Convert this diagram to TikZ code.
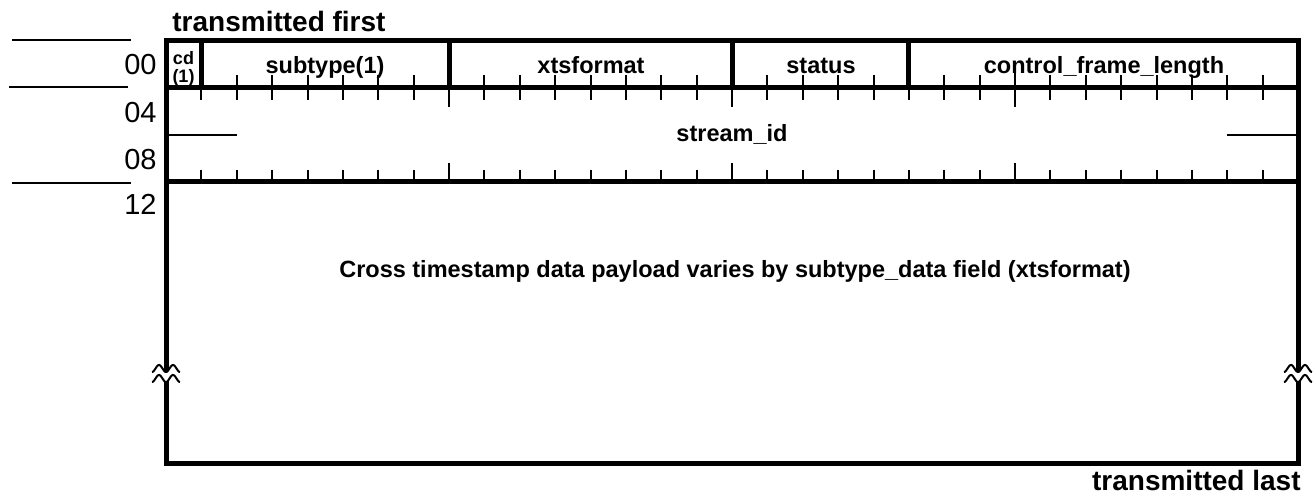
\documentclass[tikz,border=0pt]{standalone}
\usepackage{fontspec}
\setmainfont{Liberation Sans}
\begin{document}
\begin{tikzpicture}[x=0.5pt,y=-0.5pt,
  frame/.style={line width=2.5pt, line join=miter},
  bitmark/.style={line width=1pt},
  rule/.style={line width=1pt},
  wave/.style={line width=1pt},
  rowlabel/.style={font=\fontsize{14.5}{16}\selectfont, inner sep=0pt, anchor=base east},
  fieldlabel/.style={font=\bfseries\fontsize{11.75}{13}\selectfont, inner sep=0pt, anchor=base},
  smalllabel/.style={font=\bfseries\fontsize{9}{10}\selectfont, inner sep=0pt, anchor=base},
  title/.style={font=\bfseries\fontsize{14}{16}\selectfont, inner sep=0pt},
  brk/.pic={
    \fill[white] plot[domain=0:1,samples=40] ({-14+28*\x},{-5+3.5*cos(720*\x)})
      -- plot[domain=1:0,samples=40] ({-14+28*\x},{5+3.5*cos(720*\x)}) -- cycle;
    \draw[wave] plot[domain=0:1,samples=40] ({-14+28*\x},{-5+3.5*cos(720*\x)});
    \draw[wave] plot[domain=0:1,samples=40] ({-14+28*\x},{5+3.5*cos(720*\x)});
  }]
\useasboundingbox (0,0) rectangle (1316,497);
\def\bw{35.375}

% left-hand row rules
\draw[rule] (12,40.5) -- (131,40.5);
\draw[rule] (9,87.5) -- (128,87.5);
\draw[rule] (12,183) -- (131,183);

% row offsets
\node[rowlabel] (r00) at (157,75) {00};
\node[rowlabel] (r04) at (157,123) {04};
\node[rowlabel] (r08) at (157,170) {08};
\node[rowlabel] (r12) at (157,215) {12};

% bit ticks: above the first row line (inside the fields), below it,
% and above the line closing stream_id; byte boundaries are longer
\foreach \b in {1,...,31}{
  \pgfmathtruncatemacro\isbyte{mod(\b,8)==0 ? 1 : 0}
  \pgfmathsetmacro\xx{166+\b*\bw}
  \ifnum\b=1\else\ifnum\b=8\else\ifnum\b=16\else\ifnum\b=21\else
    \ifnum\b=24
      \draw[bitmark] (\xx,72) -- (\xx,88);
    \else
      \draw[bitmark] (\xx,75) -- (\xx,88);
    \fi
  \fi\fi\fi\fi
  \ifnum\isbyte=1
    \draw[bitmark] (\xx,88) -- (\xx,107);
    \draw[bitmark] (\xx,163) -- (\xx,182);
  \else
    \draw[bitmark] (\xx,88) -- (\xx,100);
    \draw[bitmark] (\xx,170) -- (\xx,182);
  \fi
}

% stream_id word split
\draw[rule] (166,135.5) -- ({166+2*\bw},135.5);
\draw[rule] ({166+30*\bw},135.5) -- (1298,135.5);

% frame, row separators and field dividers
\draw[frame] (166,41) rectangle (1298,463);
\draw[frame] (166,88) -- (1298,88);
\draw[frame] (166,182) -- (1298,182);
\foreach \b in {1,8,16,21}
  \draw[frame] ({166+\b*\bw},41) -- ({166+\b*\bw},88);

% break marks on the payload sides
\pic at (166,373.5) {brk};
\pic at (1298,373.5) {brk};

% field labels
\node[smalllabel] (cd) at (183.5,65) {cd};
\node[smalllabel] (cdw) at (183.5,83) {(1)};
\node[fieldlabel] (subtype) at (325,74) {subtype(1)};
\node[fieldlabel] (xts) at (591,74) {xtsformat};
\node[fieldlabel] (status) at (821,74) {status};
\node[fieldlabel] (cfl) at (1104,74) {control\_frame\_length};
\node[fieldlabel] (sid) at (732,142) {stream\_id};
\node[fieldlabel] (payload) at (735,278) {Cross timestamp data payload varies by subtype\_data field (xtsformat)};

% transmission order
\node[title, anchor=base west] (first) at (172,32) {transmitted first};
\node[title, anchor=base east] (last) at (1301,490) {transmitted last};
\end{tikzpicture}
\end{document}
